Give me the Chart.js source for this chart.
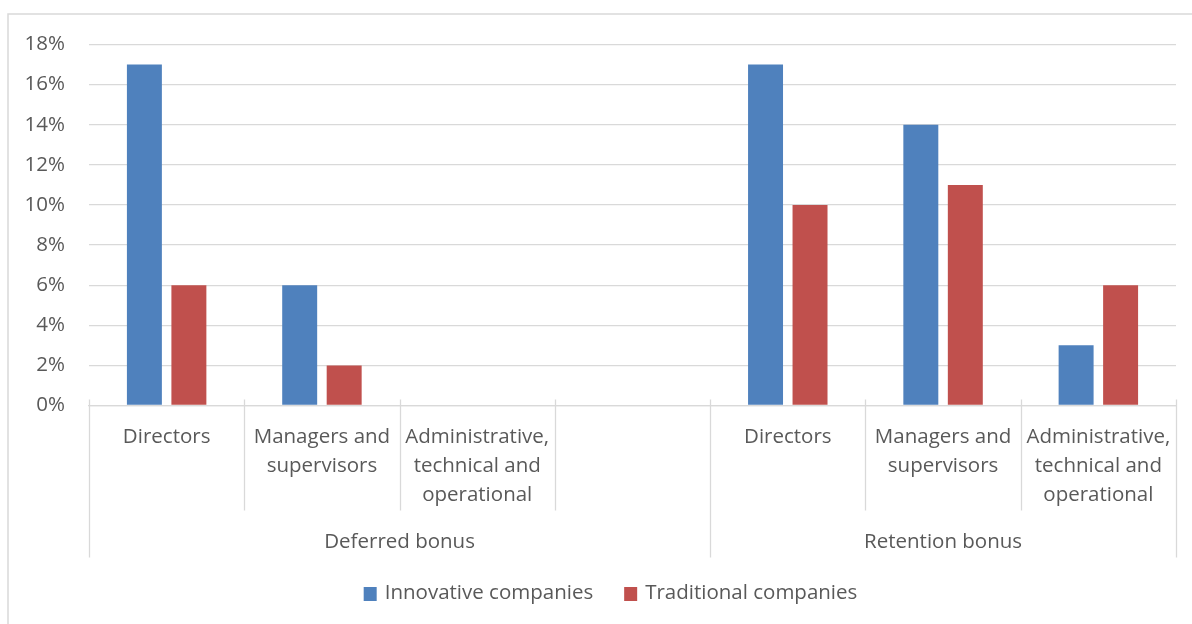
<!DOCTYPE html>
<html>
<head>
<meta charset="utf-8">
<title>Deferred and retention bonus</title>
<script src="https://cdn.jsdelivr.net/npm/chart.js@4"></script>
<style>
  html, body { margin: 0; padding: 0; background: #ffffff; }
  canvas { display: block; }
</style>
</head>
<body>
<canvas id="chart" width="1192" height="624"></canvas>
<script>
// Categories (lower axis level), grouped under the bonus types (upper level)
const categories = [
  ['Directors'],
  ['Managers and', 'supervisors'],
  ['Administrative,', 'technical and', 'operational'],
  [''],
  ['Directors'],
  ['Managers and', 'supervisors'],
  ['Administrative,', 'technical and', 'operational']
];
const groupLabels = ['Deferred bonus', 'Retention bonus'];
const groupSizes = [4, 3];

// Share of companies (%)
const seriesNames = ['Innovative companies', 'Traditional companies'];
const innovative = [17, 6, 0, null, 17, 14, 3];
const traditional = [6, 2, 0, null, 10, 11, 6];

const TEXT = '#595959';
const LINE = '#D9D9D9';
const FONT = 'Open Sans';
const FONT_SIZE = 20.5;

// Draws the outer frame, the two-level category ticks, the group labels and the legend
const categoryAxisPlugin = {
  id: 'categoryAxis',
  beforeDraw(chart) {
    const ctx = chart.ctx;
    ctx.save();
    ctx.strokeStyle = LINE;
    ctx.lineWidth = 1.5;
    ctx.strokeRect(8, 14, chart.width + 40, chart.height + 40);
    ctx.restore();
  },
  afterDraw(chart) {
    const { ctx, scales: { x } } = chart;
    const axisY = x.top;
    ctx.save();

    // boundaries between categories; group boundaries run down past the group labels
    const groupEdges = new Set([0]);
    let acc = 0;
    groupSizes.forEach(n => { acc += n; groupEdges.add(acc); });
    ctx.strokeStyle = LINE;
    ctx.lineWidth = 1.3;
    for (let i = 0; i <= categories.length; i++) {
      const px = Math.round(x.getPixelForValue(i - 0.5)) + 0.5;
      const bottom = groupEdges.has(i) ? axisY + 152 : axisY + 105;
      ctx.beginPath();
      ctx.moveTo(px, axisY - 6);
      ctx.lineTo(px, bottom);
      ctx.stroke();
    }

    // group labels
    ctx.fillStyle = TEXT;
    ctx.font = FONT_SIZE + 'px "' + FONT + '"';
    ctx.textAlign = 'center';
    ctx.textBaseline = 'middle';
    let start = 0;
    groupLabels.forEach((label, k) => {
      const l = x.getPixelForValue(start - 0.5);
      const r = x.getPixelForValue(start + groupSizes[k] - 0.5);
      ctx.fillText(label, (l + r) / 2, axisY + 137);
      start += groupSizes[k];
    });

    // legend
    const items = chart.data.datasets.map(ds => ({ text: ds.label, color: ds.backgroundColor }));
    const box = 13, gap = 8, spacing = 31;
    const widths = items.map(it => ctx.measureText(it.text).width);
    const total = widths.reduce((s, w) => s + box + gap + w, 0) + spacing * (items.length - 1);
    let lx = 610.5 - total / 2;
    const ly = 593;
    ctx.textAlign = 'left';
    items.forEach((it, k) => {
      ctx.fillStyle = it.color;
      ctx.fillRect(lx, ly - 6, box, box + 1);
      ctx.fillStyle = TEXT;
      ctx.fillText(it.text, lx + box + gap, ly);
      lx += box + gap + widths[k] + spacing;
    });

    ctx.restore();
  }
};

new Chart(document.getElementById('chart'), {
  type: 'bar',
  data: {
    labels: categories,
    datasets: [
      { label: seriesNames[0], data: innovative, backgroundColor: '#4F81BD' },
      { label: seriesNames[1], data: traditional, backgroundColor: '#C0504D' }
    ]
  },
  options: {
    responsive: false,
    animation: false,
    events: [],
    categoryPercentage: 0.573,
    barPercentage: 0.786,
    layout: { padding: { top: 44.5, right: 16, bottom: 0, left: 0 } },
    plugins: {
      legend: { display: false },
      tooltip: { enabled: false }
    },
    scales: {
      x: {
        grid: { display: false, drawTicks: false },
        border: { display: true, color: LINE, width: 1.3 },
        ticks: {
          color: TEXT,
          padding: 17,
          maxRotation: 0,
          autoSkip: false,
          font: { family: FONT, size: FONT_SIZE, lineHeight: '29px' }
        },
        afterFit(scale) { scale.height = 218.5; }
      },
      y: {
        min: 0,
        max: 18,
        grid: { color: LINE, lineWidth: 1.3, drawTicks: false },
        border: { display: false },
        ticks: {
          stepSize: 2,
          color: TEXT,
          padding: 24,
          font: { family: FONT, size: FONT_SIZE },
          callback: v => v + '%'
        },
        afterFit(scale) { scale.width = 89; }
      }
    }
  },
  plugins: [categoryAxisPlugin]
});
</script>
</body>
</html>
